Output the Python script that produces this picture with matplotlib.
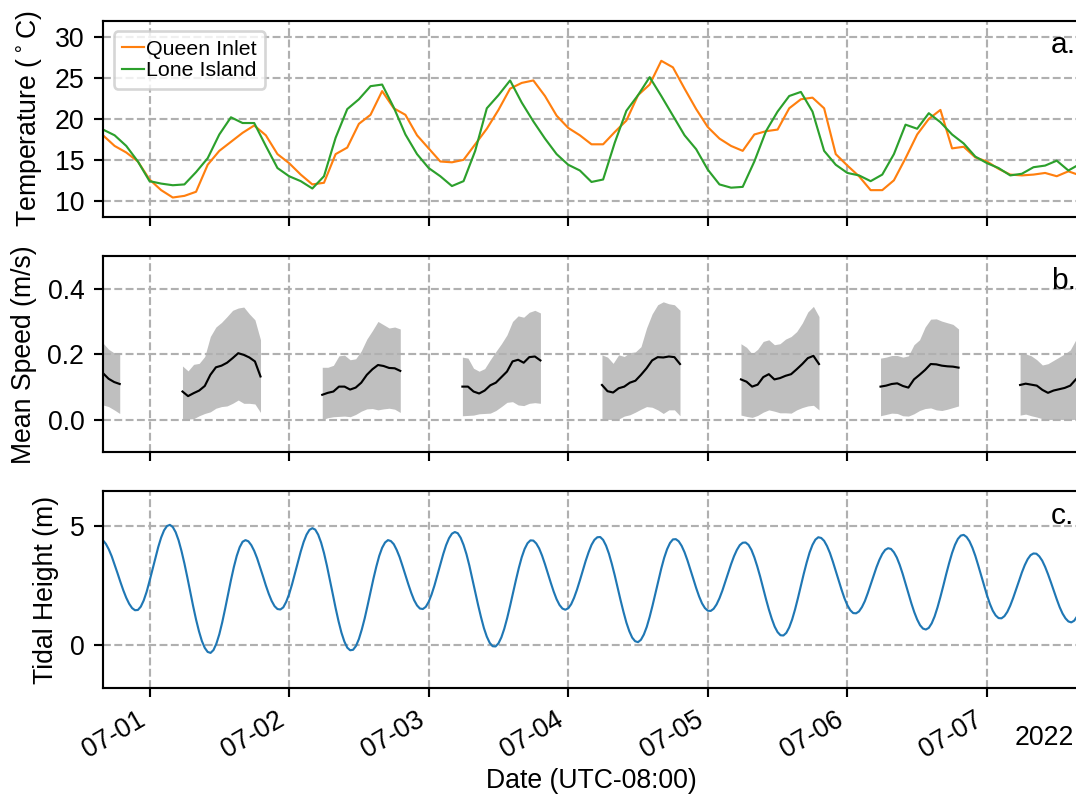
import numpy as np
import pandas as pd
import matplotlib
matplotlib.use('Agg')
import matplotlib.pyplot as plt
import matplotlib.dates as mdates

plt.rcParams['font.family'] = ['Liberation Sans', 'DejaVu Sans']
plt.rcParams['font.size'] = 10

# ---------------- data ----------------
temp_start = '2022-06-30 16:00'
temp_step = '2h'
queen_inlet = [18.0, 16.7, 15.9, 14.8, 12.6, 11.3, 10.4, 10.6, 11.1, 14.4,
               16.1, 17.2, 18.3, 19.2, 18.0, 15.7, 14.6, 13.2, 12.0, 12.2,
               15.7, 16.5,
               19.4, 20.5, 23.4, 21.3, 20.5, 18.0, 16.4, 14.8, 14.7, 15.0,
               16.9, 18.8, 21.1, 23.7, 24.4, 24.7, 22.8, 20.4, 18.9, 18.0,
               16.9, 16.9, 18.4, 19.8, 22.9, 24.2, 27.1, 26.3, 23.7, 21.2,
               19.0, 17.6, 16.7, 16.1, 18.1, 18.5, 18.7, 21.3, 22.4, 22.6,
               21.3, 15.7,
               14.3, 13.0, 11.3, 11.3, 12.5, 15.2, 18.1, 20.0, 21.1, 16.4,
               16.6, 15.3, 14.8, 13.9, 13.2, 13.1, 13.2, 13.4, 13.0, 13.6,
               13.1]
lone_island = [18.7, 18.0, 16.7, 14.8, 12.4, 12.1, 11.9, 12.0, 13.5, 15.2,
               18.1, 20.2, 19.5, 19.5, 16.7, 14.0, 13.0, 12.4, 11.5, 13.0,
               17.7, 21.2,
               22.4, 24.0, 24.2, 21.4, 18.1, 15.7, 14.0, 13.0, 11.8, 12.4,
               16.1, 21.3, 22.9, 24.7, 22.0, 19.7, 17.6, 15.7, 14.4, 13.7,
               12.3, 12.6, 17.1, 21.0, 22.9, 25.1, 22.8, 20.4, 18.0, 16.3,
               13.8, 12.0, 11.6, 11.7, 14.8, 18.5, 20.9, 22.8, 23.3, 20.9,
               16.1, 14.4,
               13.4, 13.1, 12.4, 13.2, 15.7, 19.3, 18.8, 20.7, 19.6, 18.1,
               17.0, 15.4, 14.6, 14.0, 13.1, 13.3, 14.1, 14.3, 14.9, 13.7,
               14.5]

speed_starts = ['2022-06-30 16:00', '2022-07-01 05:40', '2022-07-02 05:42',
                '2022-07-03 05:48', '2022-07-04 05:48', '2022-07-05 05:42',
                '2022-07-06 05:42', '2022-07-07 05:42']
speed_step = '57min30s'
speed_mean = [
    [0.142, 0.125, 0.115, 0.109],
    [0.086, 0.072, 0.081, 0.089, 0.103, 0.137, 0.160, 0.165, 0.174, 0.188,
     0.203, 0.198, 0.190, 0.178, 0.132],
    [0.076, 0.082, 0.086, 0.101, 0.101, 0.092, 0.098, 0.113, 0.137, 0.154,
     0.167, 0.164, 0.158, 0.157, 0.149],
    [0.101, 0.101, 0.086, 0.080, 0.089, 0.105, 0.113, 0.130, 0.147, 0.178,
     0.183, 0.174, 0.191, 0.193, 0.181],
    [0.106, 0.087, 0.083, 0.096, 0.101, 0.113, 0.119, 0.137, 0.157, 0.181,
     0.191, 0.190, 0.193, 0.191, 0.170],
    [0.123, 0.116, 0.101, 0.107, 0.130, 0.139, 0.123, 0.127, 0.134, 0.139,
     0.154, 0.170, 0.188, 0.195, 0.170],
    [0.101, 0.104, 0.109, 0.111, 0.103, 0.098, 0.123, 0.137, 0.152, 0.170,
     0.169, 0.165, 0.163, 0.162, 0.159],
    [0.106, 0.110, 0.107, 0.104, 0.091, 0.082, 0.089, 0.093, 0.097, 0.104,
     0.123],
]
speed_upper = [
    [0.234, 0.215, 0.204, 0.204],
    [0.164, 0.149, 0.169, 0.172, 0.193, 0.254, 0.283, 0.297, 0.315, 0.334,
     0.341, 0.344, 0.323, 0.305, 0.244],
    [0.160, 0.160, 0.166, 0.195, 0.197, 0.183, 0.186, 0.210, 0.246, 0.272,
     0.300, 0.290, 0.280, 0.283, 0.277],
    [0.191, 0.188, 0.157, 0.148, 0.156, 0.183, 0.208, 0.232, 0.259, 0.300,
     0.317, 0.313, 0.328, 0.334, 0.326],
    [0.198, 0.191, 0.172, 0.198, 0.193, 0.205, 0.207, 0.223, 0.280, 0.323,
     0.351, 0.360, 0.354, 0.351, 0.334],
    [0.232, 0.221, 0.201, 0.215, 0.239, 0.244, 0.229, 0.232, 0.246, 0.254,
     0.269, 0.295, 0.329, 0.346, 0.315],
    [0.188, 0.191, 0.196, 0.196, 0.191, 0.195, 0.229, 0.244, 0.283, 0.307,
     0.308, 0.301, 0.296, 0.291, 0.277],
    [0.203, 0.201, 0.195, 0.183, 0.167, 0.171, 0.181, 0.191, 0.201, 0.213,
     0.244],
]
speed_lower = [
    [0.045, 0.040, 0.030, 0.019],
    [0.004, 0.002, 0.003, 0.012, 0.019, 0.024, 0.035, 0.040, 0.042, 0.050,
     0.060, 0.050, 0.050, 0.048, 0.022],
    [0.000, 0.006, 0.009, 0.010, 0.011, 0.009, 0.016, 0.026, 0.033, 0.034,
     0.030, 0.033, 0.035, 0.032, 0.022],
    [0.012, 0.013, 0.014, 0.018, 0.019, 0.020, 0.028, 0.040, 0.053, 0.055,
     0.045, 0.043, 0.050, 0.052, 0.050],
    [0.004, 0.001, 0.000, 0.002, 0.011, 0.015, 0.023, 0.032, 0.040, 0.038,
     0.030, 0.019, 0.030, 0.030, 0.012],
    [0.014, 0.010, 0.007, 0.013, 0.023, 0.030, 0.026, 0.021, 0.021, 0.020,
     0.030, 0.037, 0.042, 0.044, 0.030],
    [0.012, 0.016, 0.020, 0.019, 0.012, 0.011, 0.018, 0.028, 0.034, 0.036,
     0.030, 0.028, 0.032, 0.037, 0.042],
    [0.014, 0.017, 0.012, 0.008, 0.003, 0.000, 0.001, 0.001, 0.000, 0.000,
     0.001],
]

tide_start = '2022-06-30 16:00'
tide_step = '30min'
tide_height = [
    4.38, 4.23, 4.00, 3.71, 3.36, 3.00, 2.63, 2.28, 1.97, 1.72, 1.54, 1.45,
    1.46, 1.60, 1.86, 2.22, 2.67, 3.15, 3.64, 4.10, 4.50, 4.80, 4.98, 5.03,
    4.94, 4.72, 4.38, 3.93, 3.41, 2.83, 2.22, 1.62, 1.06, 0.57, 0.16, -0.13, -0.30, -0.34,
    -0.22, 0.05, 0.44, 0.94, 1.51, 2.11, 2.71, 3.26, 3.73, 4.09, 4.32, 4.39,
    4.34, 4.18, 3.94, 3.63, 3.26, 2.88, 2.49, 2.14, 1.84, 1.62, 1.50, 1.48,
    1.57, 1.80, 2.12, 2.53, 2.99, 3.46, 3.91, 4.31, 4.62, 4.82, 4.89, 4.83,
    4.62, 4.29, 3.85, 3.32, 2.74, 2.14, 1.54, 0.99, 0.51, 0.14, -0.12, -0.23,
    -0.21, -0.05, 0.24, 0.64, 1.11, 1.65, 2.22, 2.77, 3.28, 3.73, 4.07, 4.29, 4.39, 4.35,
    4.22, 3.98, 3.68, 3.31, 2.92, 2.54, 2.18, 1.87, 1.65, 1.52,
    1.50, 1.59, 1.80, 2.11, 2.49, 2.93, 3.37, 3.80, 4.18, 4.47, 4.66, 4.73,
    4.68, 4.49, 4.19, 3.80, 3.32, 2.78, 2.22, 1.67, 1.16, 0.70, 0.34, 0.08, -0.06, -0.07,
    0.06, 0.31, 0.67, 1.12, 1.63, 2.17, 2.71, 3.22, 3.67, 4.02, 4.26, 4.38,
    4.37, 4.25, 4.04, 3.74, 3.38, 2.99, 2.60, 2.23, 1.91, 1.67, 1.52, 1.47,
    1.53, 1.70, 1.97, 2.31, 2.70, 3.11, 3.52, 3.88, 4.19, 4.40, 4.51, 4.52,
    4.40, 4.16, 3.82, 3.39, 2.91, 2.39, 1.87, 1.38, 0.93, 0.57, 0.30, 0.15,
    0.11, 0.21, 0.43, 0.75, 1.17, 1.65, 2.17, 2.70, 3.20, 3.65, 4.01, 4.27, 4.42, 4.43,
    4.34, 4.15, 3.88, 3.54, 3.16, 2.77, 2.38, 2.03, 1.74, 1.54, 1.43, 1.42,
    1.51, 1.69, 1.95, 2.27, 2.64, 3.01, 3.38, 3.71, 3.98, 4.18, 4.28, 4.29,
    4.19, 3.98, 3.67, 3.29, 2.86, 2.39, 1.92, 1.48, 1.09, 0.76, 0.53, 0.40,
    0.39, 0.50, 0.73, 1.06, 1.48, 1.96, 2.47, 2.98, 3.45, 3.87, 4.19, 4.41, 4.51, 4.48,
    4.36, 4.14, 3.85, 3.49, 3.10, 2.70, 2.31, 1.95, 1.66, 1.45, 1.33, 1.32,
    1.40, 1.58, 1.83, 2.16, 2.52, 2.89, 3.25, 3.56, 3.81, 3.98, 4.05, 4.02,
    3.88, 3.66, 3.35, 2.98, 2.57, 2.15, 1.74, 1.37, 1.06, 0.82, 0.68, 0.64,
    0.71, 0.90, 1.19, 1.57, 2.01, 2.48, 2.97, 3.43, 3.85, 4.19, 4.44, 4.58,
    4.61, 4.52, 4.34, 4.07, 3.73, 3.33, 2.91, 2.49, 2.08, 1.72, 1.43, 1.23, 1.12, 1.11,
    1.20, 1.38, 1.64, 1.96, 2.31, 2.67, 3.03, 3.34, 3.59, 3.76, 3.83, 3.82,
    3.71, 3.53, 3.27, 2.96, 2.62, 2.26, 1.91, 1.58, 1.31, 1.11, 0.98, 0.94,
    1.01, 1.19, 1.48]

x_range = ('2022-06-30 16:00', '2022-07-07 16:00')
year_label = '2022'
temp_ticks = [10, 15, 20, 25, 30]
speed_ticks = [0.0, 0.2, 0.4]
tide_ticks = [0, 5]

# ---------------- figure ----------------
W, H, DPI = 1076, 797, 192
fig, (ax1, ax2, ax3) = plt.subplots(3, 1, sharex=True, figsize=(W / DPI, H / DPI), dpi=DPI)
fig.subplots_adjust(left=103 / W, right=1080 / W, top=1 - 20.7 / H,
                    bottom=1 - 687.7 / H, hspace=0.1976)

grid_kw = dict(ls='--', color='#b0b0b0', lw=0.8)
LW = 0.8

# Panel a
t_temp = pd.date_range(temp_start, periods=len(queen_inlet), freq=temp_step)
ax1.plot(t_temp, queen_inlet, color='#ff7f0e', lw=LW, label='Queen Inlet')
ax1.plot(t_temp, lone_island, color='#2ca02c', lw=LW, label='Lone Island')
ax1.set_ylim(8, 32)
ax1.set_yticks(temp_ticks)
ax1.set_ylabel('Temperature ($^\\circ$C)')
ax1.legend(loc='upper left', fontsize=8, handlelength=1.0,
           handletextpad=0.1, borderaxespad=0.5, labelspacing=0.1)
ax1.grid(True, **grid_kw)

# Panel b
for start, m, up, lo in zip(speed_starts, speed_mean, speed_upper, speed_lower):
    ts = pd.date_range(start, periods=len(m), freq=speed_step)
    ax2.fill_between(ts, lo, up, color='#bfbfbf', lw=0)
    ax2.plot(ts, m, color='k', lw=LW)
ax2.set_ylim(-0.1, 0.5)
ax2.set_yticks(speed_ticks)
ax2.set_ylabel('Mean Speed (m/s)')
ax2.grid(True, **grid_kw)

# Panel c
t_tide = pd.date_range(tide_start, periods=len(tide_height), freq=tide_step)
ax3.plot(t_tide, tide_height, color='#1f77b4', lw=LW)
ax3.set_ylim(-1.8, 6.44)
ax3.set_yticks(tide_ticks)
ax3.set_ylabel('Tidal Height (m)')
ax3.set_xlabel('Date (UTC-08:00)', labelpad=2.0)
ax3.grid(True, **grid_kw)

ax3.set_xlim(pd.Timestamp(x_range[0]), pd.Timestamp(x_range[1]))
locator = mdates.DayLocator()
formatter = mdates.ConciseDateFormatter(
    locator,
    formats=['%Y', '%m-%d', '%m-%d', '%H:%M', '%H:%M', '%S.%f'],
    show_offset=False)
ax3.xaxis.set_major_locator(locator)
ax3.xaxis.set_major_formatter(formatter)
fig.autofmt_xdate(rotation=30, ha='right', bottom=1 - 687.7 / H)

# year offset label at the right end of the date axis
fig.text(1074 / W, 1 - 745 / H, year_label, ha='right', va='baseline', fontsize=10)

for ax, lab in zip((ax1, ax2, ax3), ('a.', 'b.', 'c.')):
    ax.text(0.97, 0.875, lab, transform=ax.transAxes, fontsize=11.25,
            ha='left', va='center')

fig.savefig('out.png', dpi=DPI)
